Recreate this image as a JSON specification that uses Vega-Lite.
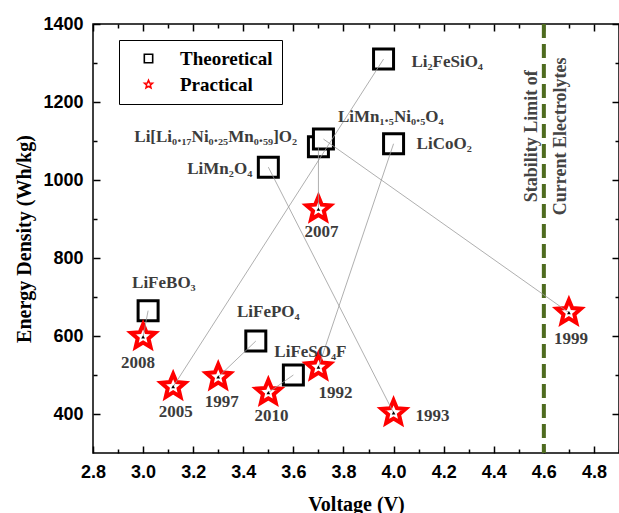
{
  "$schema": "https://vega.github.io/schema/vega-lite/v6.json",
  "width": 526,
  "height": 429,
  "autosize": {"type": "none"},
  "padding": {"left": 93, "top": 24, "right": 0, "bottom": 60},
  "background": "white",
  "config": {
    "view": {"stroke": "black", "strokeWidth": 1.5},
    "axis": {
      "tickColor": "black", "tickWidth": 1.5, "domain": false, "grid": false,
      "labelFont": "Liberation Sans", "labelFontWeight": "bold", "labelFontSize": 18, "labelColor": "black",
      "titleFont": "Liberation Serif", "titleFontWeight": "bold", "titleFontSize": 20, "titleColor": "black",
      "labelOverlap": false, "labelFlush": false
    }
  },
  "datasets": {
    "pairs": [
      {"material": "LiFeBO3", "tV": 3.02, "tE": 665, "year": "2008", "pV": 3.0, "pE": 598},
      {"material": "Li2FeSiO4", "tV": 3.96, "tE": 1310, "year": "2005", "pV": 3.12, "pE": 470},
      {"material": "LiFePO4", "tV": 3.45, "tE": 587, "year": "1997", "pV": 3.30, "pE": 495},
      {"material": "LiFeSO4F", "tV": 3.60, "tE": 500, "year": "2010", "pV": 3.50, "pE": 455},
      {"material": "Li[Li0.17Ni0.25Mn0.59]O2", "tV": 3.70, "tE": 1085, "year": "2007", "pV": 3.70, "pE": 925},
      {"material": "LiMn1.5Ni0.5O4", "tV": 3.72, "tE": 1105, "year": "1999", "pV": 4.70, "pE": 660},
      {"material": "LiMn2O4", "tV": 3.50, "tE": 1033, "year": "1993", "pV": 4.0, "pE": 403},
      {"material": "LiCoO2", "tV": 4.0, "tE": 1093, "year": "1992", "pV": 3.70, "pE": 520}
    ],
    "labels": [
      {"text": "Li₂FeSiO₄", "lx": 4.214, "ly": 1303},
      {"text": "LiMn₁.₅Ni₀.₅O₄", "lx": 3.989, "ly": 1162},
      {"text": "Li[Li₀.₁₇Ni₀.₂₅Mn₀.₅₉]O₂", "lx": 3.29, "ly": 1110},
      {"text": "LiMn₂O₄", "lx": 3.306, "ly": 1028},
      {"text": "LiCoO₂", "lx": 4.202, "ly": 1092},
      {"text": "LiFeBO₃", "lx": 3.083, "ly": 736},
      {"text": "LiFePO₄", "lx": 3.50, "ly": 662},
      {"text": "LiFeSO₄F", "lx": 3.668, "ly": 559},
      {"text": "2007", "lx": 3.712, "ly": 867},
      {"text": "2008", "lx": 2.98, "ly": 531},
      {"text": "2005", "lx": 3.13, "ly": 405},
      {"text": "1997", "lx": 3.314, "ly": 431},
      {"text": "2010", "lx": 3.513, "ly": 395},
      {"text": "1992", "lx": 3.768, "ly": 454},
      {"text": "1993", "lx": 4.155, "ly": 395},
      {"text": "1999", "lx": 4.708, "ly": 592}
    ],
    "notes": [
      {"text": "Stability Limit of", "lx": 4.553, "ly": 1112},
      {"text": "Current Electrolytes", "lx": 4.668, "ly": 1112}
    ],
    "limit": [
      {"voltage": 4.6}
    ]
  },
  "layer": [
    {
      "data": {"name": "limit"},
      "mark": {"type": "rule", "stroke": "#4e6b1f", "strokeWidth": 4, "strokeDash": [14, 6]},
      "encoding": {
        "x": {"field": "voltage", "type": "quantitative", "scale": {"domain": [2.8, 4.9], "nice": false, "zero": false}, "axis": null}
      }
    },
    {
      "data": {"name": "pairs"},
      "mark": {"type": "point", "fill": "white", "strokeWidth": 3, "size": 400, "opacity": 1, "fillOpacity": 1},
      "encoding": {
        "x": {"field": "tV", "type": "quantitative", "scale": {"domain": [2.8, 4.9], "nice": false, "zero": false},
          "axis": {"orient": "bottom", "values": [2.8, 3.0, 3.2, 3.4, 3.6, 3.8, 4.0, 4.2, 4.4, 4.6, 4.8], "format": ".1f", "tickSize": -7, "labelPadding": 17, "title": "Voltage (V)", "titlePadding": 13}},
        "y": {"field": "tE", "type": "quantitative", "scale": {"domain": [300, 1400], "nice": false, "zero": false},
          "axis": {"orient": "left", "values": [400, 600, 800, 1000, 1200, 1400], "format": "d", "tickSize": -7, "labelPadding": 17, "title": "Energy Density (Wh/kg)", "titlePadding": 8}},
        "shape": {"datum": "Theoretical", "type": "nominal",
          "scale": {"domain": ["Theoretical", "Practical"], "range": ["square", "M0,-1L0.2645,-0.364L0.951,-0.309L0.428,0.139L0.588,0.809L0,0.45L-0.588,0.809L-0.428,0.139L-0.951,-0.309L-0.2645,-0.364Z"]},
          "legend": {"title": null, "orient": "none", "legendX": 26, "legendY": 16, "padding": 9, "strokeColor": "black",
            "symbolOffset": 11, "symbolSize": 70, "labelOffset": 22, "rowPadding": 6,
            "labelFont": "Liberation Serif", "labelFontWeight": "bold", "labelFontSize": 19, "labelColor": "black",
            "symbolStrokeWidth": 1.6, "symbolFillColor": "white"}},
        "stroke": {"datum": "Theoretical", "type": "nominal",
          "scale": {"domain": ["Theoretical", "Practical"], "range": ["black", "#ff0000"]},
          "legend": {"title": null, "orient": "none", "legendX": 26, "legendY": 16, "padding": 9, "strokeColor": "black",
            "symbolOffset": 11, "symbolSize": 70, "labelOffset": 22, "rowPadding": 6,
            "labelFont": "Liberation Serif", "labelFontWeight": "bold", "labelFontSize": 19, "labelColor": "black",
            "symbolStrokeWidth": 1.6, "symbolFillColor": "white"}}
      }
    },
    {
      "data": {"name": "pairs"},
      "mark": {"type": "point", "fill": "white", "strokeWidth": 4, "size": 640, "opacity": 1, "fillOpacity": 1},
      "encoding": {
        "x": {"field": "pV", "type": "quantitative",
          "axis": {"orient": "top", "values": [2.8, 3.0, 3.2, 3.4, 3.6, 3.8, 4.0, 4.2, 4.4, 4.6, 4.8], "labels": false, "tickSize": -7, "title": null}},
        "y": {"field": "pE", "type": "quantitative",
          "axis": {"orient": "right", "values": [400, 600, 800, 1000, 1200, 1400], "labels": false, "tickSize": -7, "title": null}},
        "shape": {"datum": "Practical", "type": "nominal"},
        "stroke": {"datum": "Practical", "type": "nominal"}
      }
    },
    {
      "data": {"name": "pairs"},
      "mark": {"type": "rule", "stroke": "#9a9a9a", "strokeWidth": 0.8},
      "encoding": {
        "x": {"field": "tV", "type": "quantitative",
          "axis": {"orient": "bottom", "values": [2.9, 3.1, 3.3, 3.5, 3.7, 3.9, 4.1, 4.3, 4.5, 4.7, 4.9], "labels": false, "tickSize": -4, "title": null}},
        "y": {"field": "tE", "type": "quantitative",
          "axis": {"orient": "left", "values": [500, 700, 900, 1100, 1300], "labels": false, "tickSize": -4, "title": null}},
        "x2": {"field": "pV"},
        "y2": {"field": "pE"}
      }
    },
    {
      "data": {"name": "pairs"},
      "mark": {"type": "point", "shape": "triangle-up", "filled": true, "color": "black", "size": 14, "opacity": 1},
      "encoding": {
        "x": {"field": "pV", "type": "quantitative",
          "axis": {"orient": "top", "values": [2.9, 3.1, 3.3, 3.5, 3.7, 3.9, 4.1, 4.3, 4.5, 4.7, 4.9], "labels": false, "tickSize": -4, "title": null}},
        "y": {"field": "pE", "type": "quantitative",
          "axis": {"orient": "right", "values": [500, 700, 900, 1100, 1300], "labels": false, "tickSize": -4, "title": null}}
      }
    },
    {
      "data": {"name": "labels"},
      "mark": {"type": "text", "font": "Liberation Serif", "fontWeight": "bold", "fontSize": 17, "fill": "#3c3c3c", "align": "center", "baseline": "middle"},
      "encoding": {
        "x": {"field": "lx", "type": "quantitative", "axis": null},
        "y": {"field": "ly", "type": "quantitative", "axis": null},
        "text": {"field": "text"}
      }
    },
    {
      "data": {"name": "notes"},
      "mark": {"type": "text", "font": "Liberation Serif", "fontWeight": "bold", "fontSize": 18, "fill": "#444444", "align": "center", "baseline": "middle", "angle": 270},
      "encoding": {
        "x": {"field": "lx", "type": "quantitative", "axis": null},
        "y": {"field": "ly", "type": "quantitative", "axis": null},
        "text": {"field": "text"}
      }
    }
  ],
  "resolve": {"axis": {"x": "independent", "y": "independent"}}
}
